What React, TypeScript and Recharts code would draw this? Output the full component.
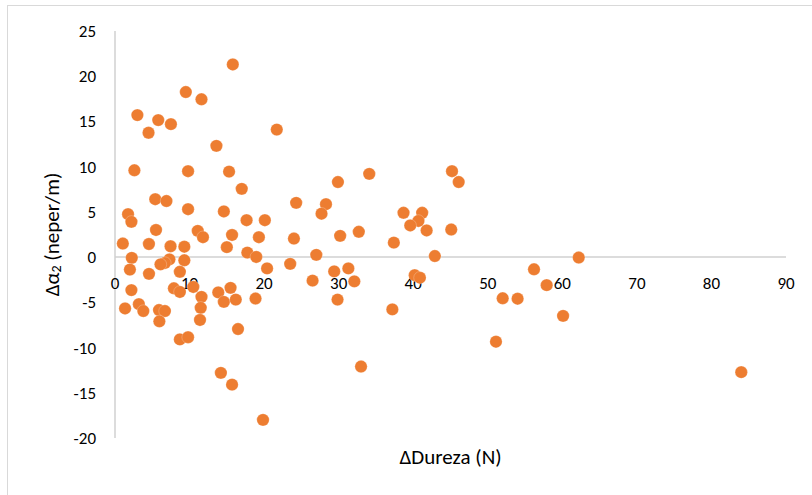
import React from 'react';
import { ScatterChart, Scatter, XAxis, YAxis, ReferenceLine, ReferenceDot } from 'recharts';

const xValues: number[] = [
  15.8, 9.5, 11.6, 3.0, 5.8, 7.5, 4.5, 21.7, 13.6, 2.6,
  9.8, 15.3, 34.1, 45.2, 46.1, 29.9, 17.0, 5.4, 6.9, 24.3,
  28.3, 27.7, 38.7, 41.2, 14.6, 9.8, 1.75, 2.2, 17.65, 20.1,
  40.7, 39.6, 41.8, 5.5, 11.1, 11.8, 15.7, 19.3, 24.0, 30.2,
  32.7, 45.1, 37.4, 1.05, 4.55, 7.45, 9.3, 15.0, 17.75, 18.95,
  27.0, 42.9, 62.2, 2.25, 9.3, 7.3, 6.7, 6.1, 23.5, 2.0,
  20.4, 31.3, 29.4, 56.2, 8.7, 4.56, 26.5, 32.1, 40.2, 40.9,
  57.9, 2.2, 7.9, 8.7, 10.5, 13.85, 15.5, 11.6, 14.6, 16.2,
  18.85, 29.85, 52.0, 54.0, 1.35, 3.2, 3.8, 5.9, 6.7, 11.5,
  37.2, 5.95, 11.4, 60.1, 16.5, 8.7, 9.8, 51.1, 14.2, 33.0,
  84.0, 15.7, 19.85,
];

const yValues: number[] = [
  21.3, 18.25, 17.45, 15.7, 15.15, 14.7, 13.75, 14.1, 12.3, 9.6,
  9.5, 9.45, 9.2, 9.5, 8.3, 8.3, 7.55, 6.4, 6.2, 6.0,
  5.85, 4.8, 4.9, 4.9, 5.05, 5.3, 4.75, 3.9, 4.08, 4.08,
  4.0, 3.5, 2.95, 3.0, 2.9, 2.2, 2.45, 2.2, 2.05, 2.35,
  2.8, 3.05, 1.6, 1.5, 1.45, 1.2, 1.15, 1.1, 0.5, 0.02,
  0.25, 0.12, -0.05, -0.08, -0.35, -0.25, -0.65, -0.8, -0.75, -1.38,
  -1.25, -1.25, -1.58, -1.35, -1.62, -1.85, -2.6, -2.68, -2.0, -2.28,
  -3.1, -3.65, -3.45, -3.85, -3.3, -3.9, -3.4, -4.4, -4.95, -4.7,
  -4.58, -4.7, -4.55, -4.6, -5.68, -5.2, -5.96, -5.85, -5.96, -5.6,
  -5.78, -7.1, -6.95, -6.5, -7.95, -9.1, -8.86, -9.35, -12.8, -12.1,
  -12.72, -14.1, -18.0,
];

const xTicks: number[] = [0, 10, 20, 30, 40, 50, 60, 70, 80, 90];
const yTicks: number[] = [-20, -15, -10, -5, 0, 5, 10, 15, 20, 25];

const xTitle = 'ΔDureza (N)';
const yTitleMain = 'Δα';
const yTitleSub = '2';
const yTitleRest = ' (neper/m)';

const data = xValues.map((x, i) => ({ x, y: yValues[i] }));

const FONT = 'Carlito, Calibri, Lato, sans-serif';
const ORANGE = '#ED7D31';
const AXIS = '#d0d0d0';

const Dot = (p: any) => (
  <circle cx={p.cx} cy={p.cy} r={6.2} fill={ORANGE} stroke="#ffffff" strokeWidth={0.4} strokeOpacity={0.6} />
);

export default function App() {
  return (
    <div style={{ position: 'absolute', left: 0, top: 0, width: 812, height: 495, background: '#fff' }}>
      <div
        style={{
          position: 'absolute',
          left: 7,
          top: 5,
          width: 812,
          height: 495,
          borderTop: '1.3px solid #d9d9d9',
          borderLeft: '1.3px solid #d9d9d9',
          boxSizing: 'border-box',
        }}
      />
      <div style={{ position: 'absolute', left: 0, top: 0 }}>
        <ScatterChart width={812} height={495} margin={{ top: 31, right: 26, bottom: 17, left: 15 }}>
          <XAxis
            type="number"
            dataKey="x"
            domain={[0, 90]}
            ticks={xTicks}
            tick={false}
            axisLine={false}
            tickLine={false}
            height={40}
            label={(props: any) => {
              const vb = props.viewBox;
              return (
                <text
                  x={vb.x + vb.width / 2}
                  y={vb.y + 19}
                  textAnchor="middle"
                  dominantBaseline="central"
                  fontFamily={FONT}
                  fontSize={21}
                  fill="#000"
                >
                  {xTitle}
                </text>
              );
            }}
          />
          <YAxis
            type="number"
            dataKey="y"
            domain={[-20, 25]}
            ticks={yTicks}
            width={100}
            axisLine={{ stroke: AXIS, strokeWidth: 1.5 }}
            tickLine={false}
            tickMargin={13}
            tick={{ fill: '#000', fontSize: 17, fontFamily: FONT }}
            label={(props: any) => {
              const vb = props.viewBox;
              const cx = vb.x + 37;
              const cy = vb.y + vb.height / 2;
              return (
                <text
                  transform={`translate(${cx},${cy}) rotate(-90)`}
                  textAnchor="middle"
                  dominantBaseline="central"
                  fontFamily={FONT}
                  fontSize={21}
                  fill="#000"
                >
                  {yTitleMain}
                  <tspan fontSize={14} dy={4}>{yTitleSub}</tspan>
                  <tspan dy={-4}>{yTitleRest}</tspan>
                </text>
              );
            }}
          />
          <ReferenceLine y={0} stroke={AXIS} strokeWidth={1.5} />
          {xTicks.map((t) => (
            <ReferenceDot
              key={t}
              x={t}
              y={0}
              r={0}
              ifOverflow="visible"
              shape={(p: any) => (
                <text
                  x={p.cx}
                  y={p.cy + 26}
                  textAnchor="middle"
                  dominantBaseline="central"
                  fontFamily={FONT}
                  fontSize={17}
                  fill="#000"
                >
                  {t}
                </text>
              )}
            />
          ))}
          <Scatter data={data} fill={ORANGE} shape={Dot} isAnimationActive={false} />
        </ScatterChart>
      </div>
    </div>
  );
}
